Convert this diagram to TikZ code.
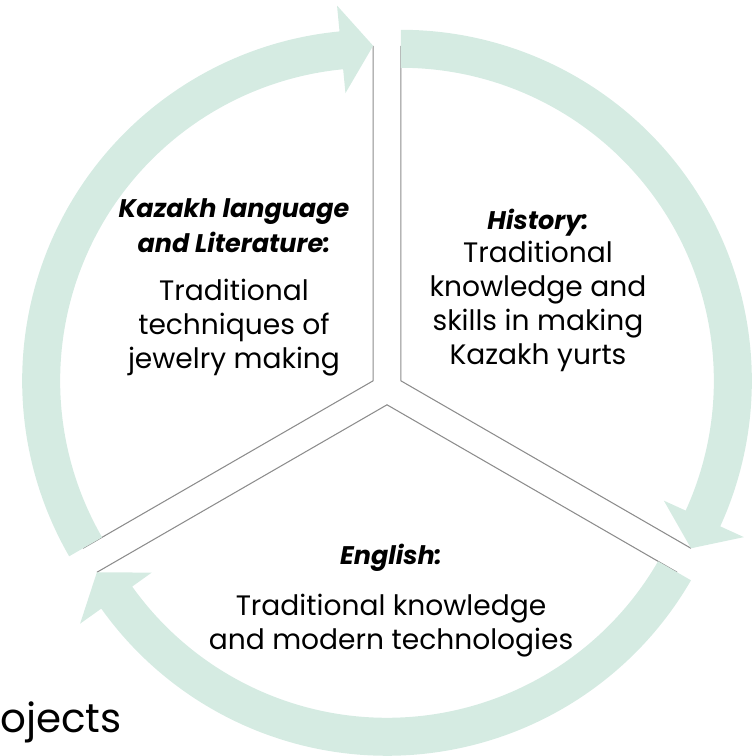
\documentclass[tikz,border=0pt]{standalone}
\usepackage{fontspec}
\setmainfont{Poppins}
\usepackage{tikz}
\usetikzlibrary{positioning, calc}
\definecolor{mint}{RGB}{213,235,226}
\definecolor{spokegray}{RGB}{140,140,140}

\begin{document}
\begin{tikzpicture}[
    x=0.02cm, y=0.02cm,
    band/.style={fill=mint, draw=none},
    spoke/.style={draw=spokegray, line width=0.6pt},
    head/.style={align=center, inner sep=0pt, font=\fontsize{14.5}{19.9}\selectfont\bfseries\itshape},
    body/.style={align=center, inner sep=0pt, font=\fontsize{16}{19.3}\selectfont}]

    \useasboundingbox (0,0) rectangle (751,756);

    \coordinate (mid) at (387,367.2);
    \coordinate (tl) at ($(mid)+(150:16)$);
    \coordinate (tr) at ($(mid)+(30:16)$);
    \coordinate (bm) at ($(mid)+(270:16)$);

    %%% edges of the three wedges
    \foreach \c/\a in {tl/210, tr/90, bm/330}
        \draw[spoke] ($(\c)+(\a:335)$) -- (\c) -- ($(\c)+(\a-120:335)$);

    %%% circular arrows round the wedges
    \foreach \c/\a in {tl/210, tr/90, bm/330}
        \fill[band] ($(\c)+(\a:313)$) arc[start angle=\a, end angle=\a-114.5, radius=313]
            -- ($(\c)+(\a-114.5:289)$) -- ($(\c)+(\a-120:335)$) -- ($(\c)+(\a-114.5:377)$)
            -- ($(\c)+(\a-114.5:351)$) arc[start angle=\a-114.5, end angle=\a, radius=351] -- cycle;

    %%% texts
    \node at (234,558) [head, anchor=north] (kazhead) {Kazakh language \\ and Literature:};
    \node [body, below=15pt of kazhead] (kazbody) {Traditional \\ techniques of \\ jewelry making};

    \node at (538,547) [head, anchor=north] (histhead) {History:};
    \node [body, below=2.5pt of histhead] (histbody) {Traditional \\ knowledge and \\ skills in making \\ Kazakh yurts};

    \node at (391,212) [head, anchor=north] (enghead) {English:};
    \node [body, below=12.5pt of enghead] (engbody) {Traditional knowledge \\ and modern technologies};

    \node at (0,23) [anchor=base west, inner sep=0pt, font=\fontsize{23}{26}\selectfont] (proj) {ojects};

\end{tikzpicture}
\end{document}
